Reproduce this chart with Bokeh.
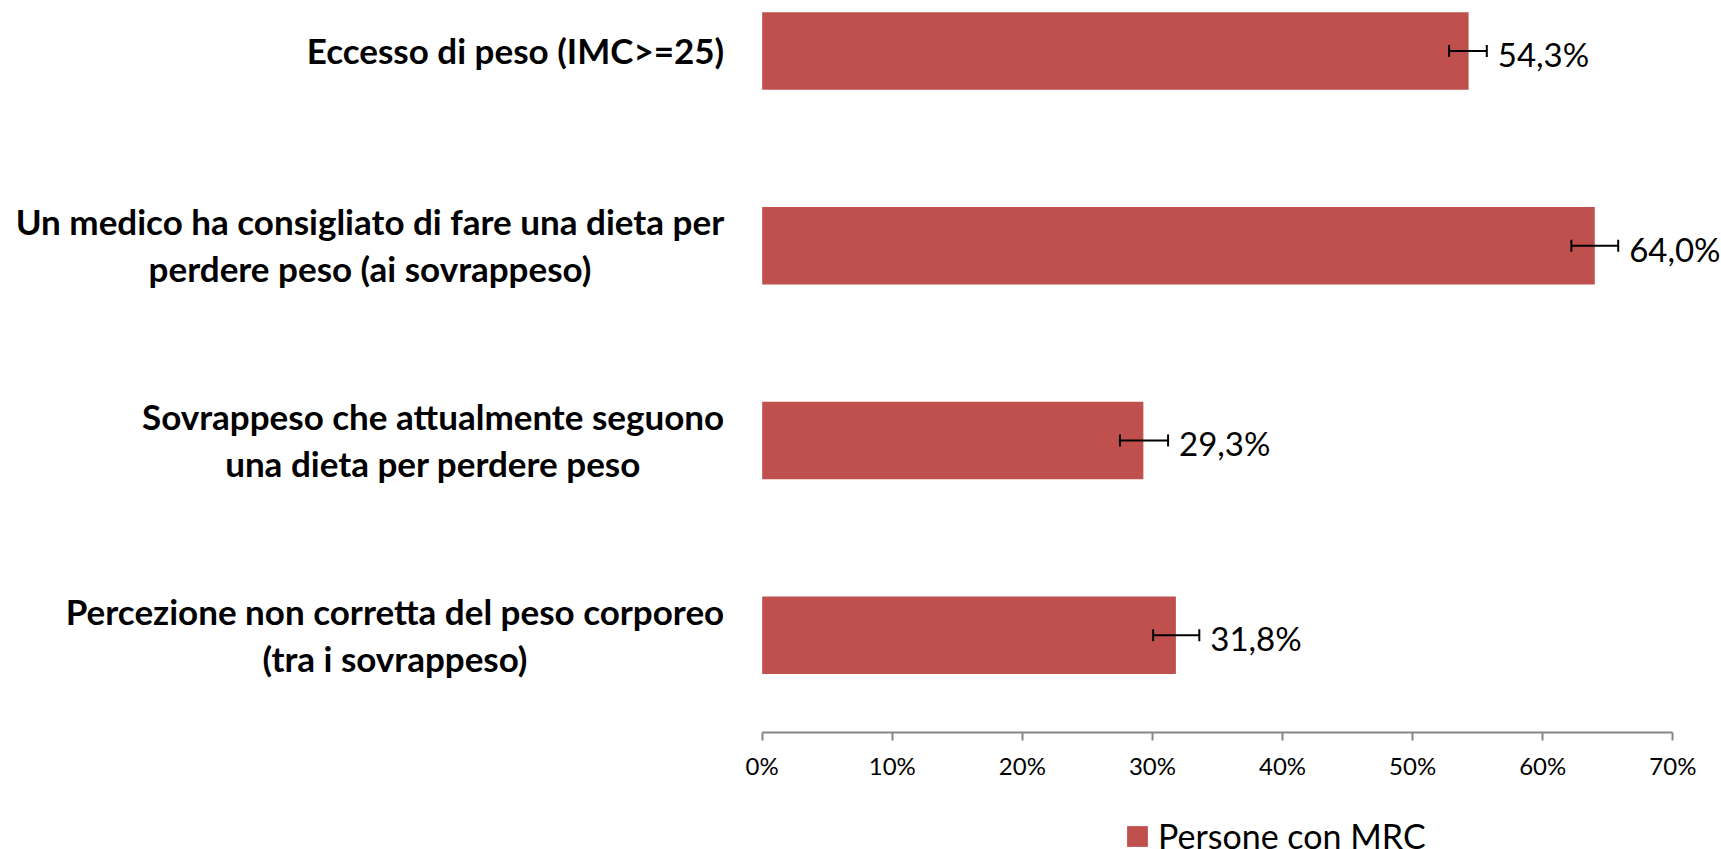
from bokeh.plotting import figure
from bokeh.layouts import column
from bokeh.models import (Range1d, FixedTicker, ColumnDataSource, Whisker, TeeHead,
                          Legend, LegendItem)
from bokeh.core.properties import value
from bokeh.embed import file_html
from bokeh.resources import INLINE

# ---- data ----
categories = [
    "Eccesso di peso (IMC>=25)",
    "Un medico ha consigliato di fare una dieta per\nperdere peso (ai sovrappeso)",
    "Sovrappeso che attualmente seguono\nuna dieta per perdere peso",
    "Percezione non corretta del peso corporeo\n(tra i sovrappeso)",
]
values = [54.3, 64.0, 29.3, 31.8]
err_low = [52.8, 62.2, 27.5, 30.05]
err_high = [55.7, 65.8, 31.2, 33.6]
value_labels = ["54,3%", "64,0%", "29,3%", "31,8%"]
tick_values = [0, 10, 20, 30, 40, 50, 60, 70]
tick_labels = ["0%", "10%", "20%", "30%", "40%", "50%", "60%", "70%"]
series_name = "Persone con MRC"

BAR_COLOR = "#C0504D"
FONT = "Lato"

n = len(categories)
ypos = [n - 0.5 - i for i in range(n)]

src = ColumnDataSource(dict(
    y=ypos, v=values, lo=err_low, hi=err_high, lab=value_labels, cat=categories,
    zero=[0] * n,
))

W = 1721
H_MAIN, H_LEG = 800, 49
p = figure(width=W, height=H_MAIN, output_backend="svg", toolbar_location=None,
           x_range=Range1d(-58.55, 73.74), y_range=Range1d(0, 3.7596),
           min_border_left=0, min_border_right=0, min_border_top=0,
           min_border_bottom=H_MAIN - 732)
p.outline_line_color = None
p.background_fill_color = "white"
p.border_fill_color = "white"
p.xgrid.visible = False
p.ygrid.visible = False
p.yaxis.visible = False

bars = p.hbar(y="y", right="v", left=0, height=0.398, source=src,
              fill_color=BAR_COLOR, line_color=None)

wh = Whisker(base="y", lower="lo", upper="hi", dimension="width", source=src,
             line_color="black", line_width=2, level="overlay",
             lower_head=TeeHead(size=12, line_color="black", line_width=2),
             upper_head=TeeHead(size=12, line_color="black", line_width=2))
p.add_layout(wh)

p.text(x="hi", y="y", text="lab", source=src, x_offset=11, y_offset=3,
       text_align="left", text_baseline="middle",
       text_font=value(FONT), text_font_size="33px", text_color="black")

p.text(x="zero", y="y", text="cat", source=src, x_offset=-38, y_offset=-1,
       text_align="center", text_baseline="middle", anchor=value("center_right"),
       text_line_height=1.12,
       text_font=value(FONT), text_font_style="bold", text_font_size="35px",
       text_color="black")

ax = p.xaxis[0]
ax.bounds = (0, 70)
ax.ticker = FixedTicker(ticks=tick_values)
ax.major_label_overrides = {t: l for t, l in zip(tick_values, tick_labels)}
ax.minor_tick_line_color = None
ax.axis_line_color = "#868686"
ax.axis_line_width = 2
ax.major_tick_line_color = "#868686"
ax.major_tick_line_width = 2
ax.major_tick_in = 0
ax.major_tick_out = 8
ax.major_label_standoff = 10
ax.major_label_text_font = FONT
ax.major_label_text_font_size = "24px"
ax.major_label_text_color = "black"

# legend strip below the chart (bars drawn here fall outside its view range)
q = figure(width=W, height=H_LEG, output_backend="svg", toolbar_location=None,
           x_range=Range1d(0, 1), y_range=Range1d(100, 101),
           min_border_left=0, min_border_right=0, min_border_top=0, min_border_bottom=0)
q.axis.visible = False
q.grid.visible = False
q.outline_line_color = None
q.border_fill_color = "white"
q.background_fill_color = "white"
leg_r = q.hbar(y="y", right="v", left=0, height=0.4, source=src,
               fill_color=BAR_COLOR, line_color=None)
lg = Legend(items=[LegendItem(label=series_name, renderers=[leg_r])],
            location=(1124, -7), orientation="horizontal",
            padding=0, margin=0, border_line_color=None, background_fill_alpha=0,
            glyph_width=26, glyph_height=26, label_standoff=8,
            label_text_font=FONT, label_text_font_size="34px",
            label_text_color="black")
q.add_layout(lg, "center")

layout = column(p, q, spacing=0)
open("out.html", "w").write(file_html(layout, INLINE))
